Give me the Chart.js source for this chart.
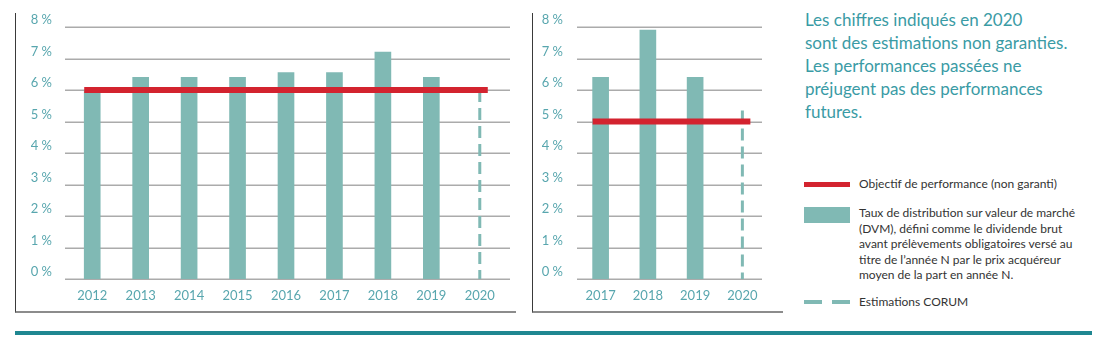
<!DOCTYPE html>
<html lang="fr">
<head>
<meta charset="UTF-8">
<title>Taux de distribution</title>
<script src="https://cdn.jsdelivr.net/npm/chart.js@4"></script>
<style>
  body { margin: 0; width: 1101px; height: 343px; background: #fff; position: relative; overflow: hidden; font-family: Lato, "Open Sans", sans-serif; }
  .frame { position: absolute; top: 13px; height: 298px; border-left: 1.5px solid #3a3a3a; border-bottom: 2px solid #8c8c8c; }
  canvas { position: absolute; top: 0; }
  .note { position: absolute; left: 805px; top: 8px; color: #3a9ba5; font-size: 17px; line-height: 23px; }
  .leg { position: absolute; left: 859px; color: #333; font-size: 12px; line-height: 15.5px; }
  .sw { position: absolute; left: 804px; }
  .rule { position: absolute; left: 15px; top: 331px; width: 1077px; height: 4px; background: #1f8791; }
</style>
</head>
<body>

<div class="frame" style="left:15px;width:500px"></div>
<div class="frame" style="left:532px;width:250px"></div>
<canvas id="chartA" width="500" height="312" style="left:15px"></canvas>
<canvas id="chartB" width="250" height="312" style="left:532px"></canvas>

<div class="note">Les chiffres indiqués en 2020<br>sont des estimations non garanties.<br>Les performances passées ne<br>préjugent pas des performances<br>futures.</div>

<div class="sw" style="top:182px;width:46px;height:5px;background:#d3232f"></div>
<div class="leg" style="top:176px">Objectif de performance (non garanti)</div>
<div class="sw" style="top:207px;width:46px;height:16px;background:#80b9b4"></div>
<div class="leg" style="top:205px">Taux de distribution sur valeur de marché<br>(DVM), défini comme le dividende brut<br>avant prélèvements obligatoires versé au<br>titre de l’année N par le prix acquéreur<br>moyen de la part en année N.</div>
<div class="sw" style="top:300px;width:18px;height:4px;background:#80b9b4"></div>
<div class="sw" style="top:300px;left:832px;width:18px;height:4px;background:#80b9b4"></div>
<div class="leg" style="top:294px">Estimations CORUM</div>

<div class="rule"></div>

<script>
// ---------- data ----------
const yearsA = ['2012', '2013', '2014', '2015', '2016', '2017', '2018', '2019', '2020'];
const distA = [6.0, 6.4, 6.4, 6.4, 6.55, 6.55, 7.2, 6.4, null];
const estimA = 6.0;      // 2020 estimate
const objectiveA = 6;

const yearsB = ['2017', '2018', '2019', '2020'];
const distB = [6.4, 7.9, 6.4, null];
const estimB = 5.35;
const objectiveB = 5;

const yMin = 0, yMax = 8;

const TEAL = '#80b9b4';
const TICK = '#58a6ae';
const RED = '#d3232f';

// horizontal grid lines, a bit wider than the chart area
const gridPlugin = {
  id: 'hgrid',
  beforeDatasetsDraw(chart, args, opts) {
    const ctx = chart.ctx, y = chart.scales.y, a = chart.chartArea;
    ctx.save();
    ctx.strokeStyle = '#ababab';
    ctx.lineWidth = 1.5;
    y.ticks.forEach(t => {
      const py = Math.round(y.getPixelForValue(t.value)) + 0.25;
      ctx.beginPath();
      ctx.moveTo(a.left - opts.extL, py);
      ctx.lineTo(a.right + opts.extR, py);
      ctx.stroke();
    });
    ctx.restore();
  }
};

// objective line across all years
const objectivePlugin = {
  id: 'objective',
  afterDatasetsDraw(chart, args, opts) {
    const ctx = chart.ctx, x = chart.scales.x, y = chart.scales.y;
    const n = chart.data.labels.length;
    const py = y.getPixelForValue(opts.value);
    ctx.save();
    ctx.strokeStyle = RED;
    ctx.lineWidth = 6;
    ctx.beginPath();
    ctx.moveTo(x.getPixelForValue(0) - 8, py);
    ctx.lineTo(x.getPixelForValue(n - 1) + 8, py);
    ctx.stroke();
    ctx.restore();
  }
};

function makeChart(id, labels, values, estim, objective, geo) {
  const last = labels[labels.length - 1];
  return new Chart(document.getElementById(id), {
    data: {
      labels: labels,
      datasets: [
        {
          type: 'bar',
          data: values,
          backgroundColor: TEAL,
          barThickness: 16
        },
        {
          type: 'line',
          data: [{ x: last, y: estim }, { x: last, y: 0 }],
          borderColor: TEAL,
          borderWidth: 3,
          borderDash: [12, 6],
          pointRadius: 0
        }
      ]
    },
    options: {
      responsive: false,
      animation: false,
      layout: { padding: { top: 27, right: geo.padR, left: 0, bottom: 0 } },
      plugins: {
        legend: { display: false },
        tooltip: { enabled: false },
        hgrid: { extL: geo.extL, extR: geo.extR },
        objective: { value: objective }
      },
      scales: {
        x: {
          grid: { display: false, drawTicks: false },
          border: { display: false },
          ticks: { color: TICK, font: { family: 'Lato', size: 13 }, padding: 9 },
          afterFit(s) { s.height = 33; }
        },
        y: {
          min: yMin, max: yMax,
          grid: { display: false, drawTicks: false },
          border: { display: false },
          ticks: {
            stepSize: 1,
            color: TICK,
            font: { family: 'Lato', size: 13 },
            padding: geo.tickPad,
            labelOffset: -7,
            callback: v => v + ' %'
          },
          afterFit(s) { s.width = geo.axisW; }
        }
      }
    },
    plugins: [gridPlugin, objectivePlugin]
  });
}

makeChart('chartA', yearsA, distA, estimA, objectiveA, { axisW: 53, tickPad: 16, padR: 11, extL: 3, extR: 6 });
makeChart('chartB', yearsB, distB, estimB, objectiveB, { axisW: 45, tickPad: 14, padR: 16, extL: 0, extR: -4 });
</script>
</body>
</html>
